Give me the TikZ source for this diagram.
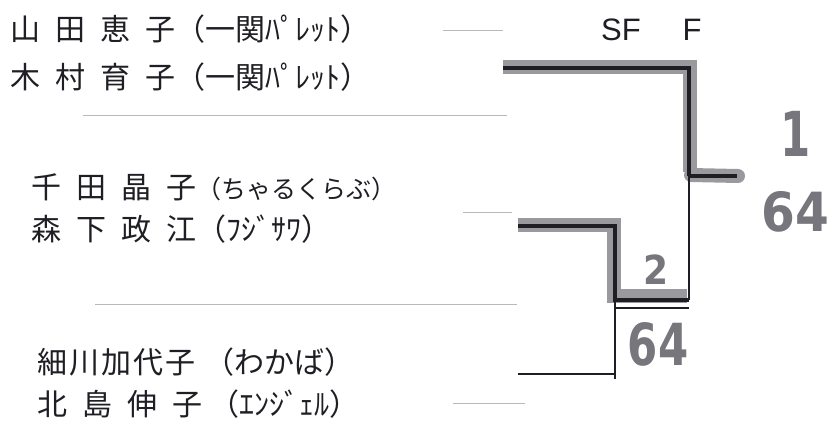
\documentclass[tikz,border=0pt]{standalone}
\usepackage{fontspec}
\usepackage{graphicx}
\newfontfamily\cjk{Noto Sans CJK JP}
\newfontfamily\hand{DejaVu Sans}
\setmainfont{Liberation Sans}
\newcommand\jsp{\hspace{15pt}}
\definecolor{inkc}{HTML}{1E1E24}
\definecolor{hlgray}{HTML}{9A9A9E}
\definecolor{handgray}{HTML}{76767C}
\begin{document}
\begin{tikzpicture}[x=1pt,y=-1pt,
  jname/.style={anchor=west, inner sep=0pt, font=\cjk\fontsize{30}{30}\selectfont, text=inkc},
  hw/.style={text=handgray, inner sep=0pt, font=\hand\bfseries},
  head/.style={inner sep=0pt, font=\fontsize{31}{31}\selectfont, text=inkc},
  blank/.style={draw=gray!55, line width=0.9pt},
  hl/.style={draw=hlgray, line width=14pt, line join=miter},
  ink/.style={draw=inkc, line width=4pt, line join=miter},
  thinink/.style={draw=inkc, line width=2pt}]
\useasboundingbox (0,0) rectangle (829,430);
\fill[white] (0,0) rectangle (829,430);

% names
\node[jname] (n1) at (10,29) {山\jsp 田\jsp 恵\jsp 子（一関ﾊﾟﾚｯﾄ）};
\node[jname] (n2) at (10,77) {木\jsp 村\jsp 育\jsp 子（一関ﾊﾟﾚｯﾄ）};
\node[jname] (n3) at (31,187) {千\jsp 田\jsp 晶\jsp 子{\fontsize{25}{25}\selectfont （ちゃるくらぶ）}};
\node[jname] (n4) at (31,229) {森\jsp 下\jsp 政\jsp 江（ﾌｼﾞｻﾜ）};
\node[jname] (n5) at (37,362) {細\hspace{2pt}川\hspace{2pt}加\hspace{2pt}代\hspace{2pt}子\hspace{9pt}（わかば）};
\node[jname] (n6) at (37,404) {北\jsp 島\jsp 伸\jsp 子\hspace{7pt}（ｴﾝｼﾞｪﾙ）};

% blank lines of the sheet
\coordinate (l1a) at (443,30);  \coordinate (l1b) at (503,30);
\coordinate (l2a) at (83,115);  \coordinate (l2b) at (507,115);
\coordinate (l3a) at (463,212); \coordinate (l3b) at (512,212);
\coordinate (l4a) at (95,304);  \coordinate (l4b) at (517,304);
\coordinate (l5a) at (453,403); \coordinate (l5b) at (525,403);
\draw[blank] (l1a) -- (l1b);
\draw[blank] (l2a) -- (l2b);
\draw[blank] (l3a) -- (l3b);
\draw[blank] (l4a) -- (l4b);
\draw[blank] (l5a) -- (l5b);

% bracket coordinates
\coordinate (a1) at (503,68);
\coordinate (a2) at (689,68);
\coordinate (a3) at (689,176);
\coordinate (a4) at (737,176);
\coordinate (a5) at (689,300);
\coordinate (b1) at (518,226);
\coordinate (b2) at (615,226);
\coordinate (b3) at (615,300);
\coordinate (b4) at (689,300);
\coordinate (b5) at (615,379);
\coordinate (b6) at (518,374);

% highlighter
\draw[hl] ([yshift=1pt]a1) -- ([xshift=1pt,yshift=1pt]a2) -- ([xshift=1pt,yshift=4pt]a3);
\draw[hl,line cap=round] ([xshift=2pt,yshift=1pt]a3) -- ([xshift=1pt]a4);
\draw[hl] ([yshift=1pt]b1) -- ([xshift=-1pt,yshift=1pt]b2) -- ([xshift=-1pt,yshift=4pt]b3) -- ([xshift=-2pt,yshift=4pt]b4);

% ink lines
\draw[ink] (a1) -- (a2) -- (a3);
\draw[ink] (a3) -- (a4);
\draw[thinink] (a3) -- (a5);
\draw[ink] (b1) -- (b2) -- (b3) -- (b4);
\draw[draw=inkc, line width=1.2pt] ([yshift=-8pt]b3) -- ([yshift=-8pt]b4);
\draw[thinink] (b3) -- (b5);
\draw[thinink] (b6) -- (b6 -| b5);

% column heads
\node[head] (sf) at (621,30) {SF};
\node[head] (f) at (692,30) {F};

% handwritten results
\node[hw, font=\hand\bfseries\fontsize{62}{62}\selectfont] (r1) at (796,134) {\scalebox{0.7}[1]{1}};
\node[hw, font=\hand\bfseries\fontsize{54}{54}\selectfont] (r64) at (795,212) {\scalebox{0.9}[1]{64}};
\node[hw, font=\hand\bfseries\fontsize{40}{40}\selectfont] (r2) at (656,270) {\scalebox{0.9}[1]{2}};
\node[hw, font=\hand\bfseries\fontsize{58}{58}\selectfont] (r64b) at (658,344) {\scalebox{0.75}[1]{64}};
\end{tikzpicture}
\end{document}
